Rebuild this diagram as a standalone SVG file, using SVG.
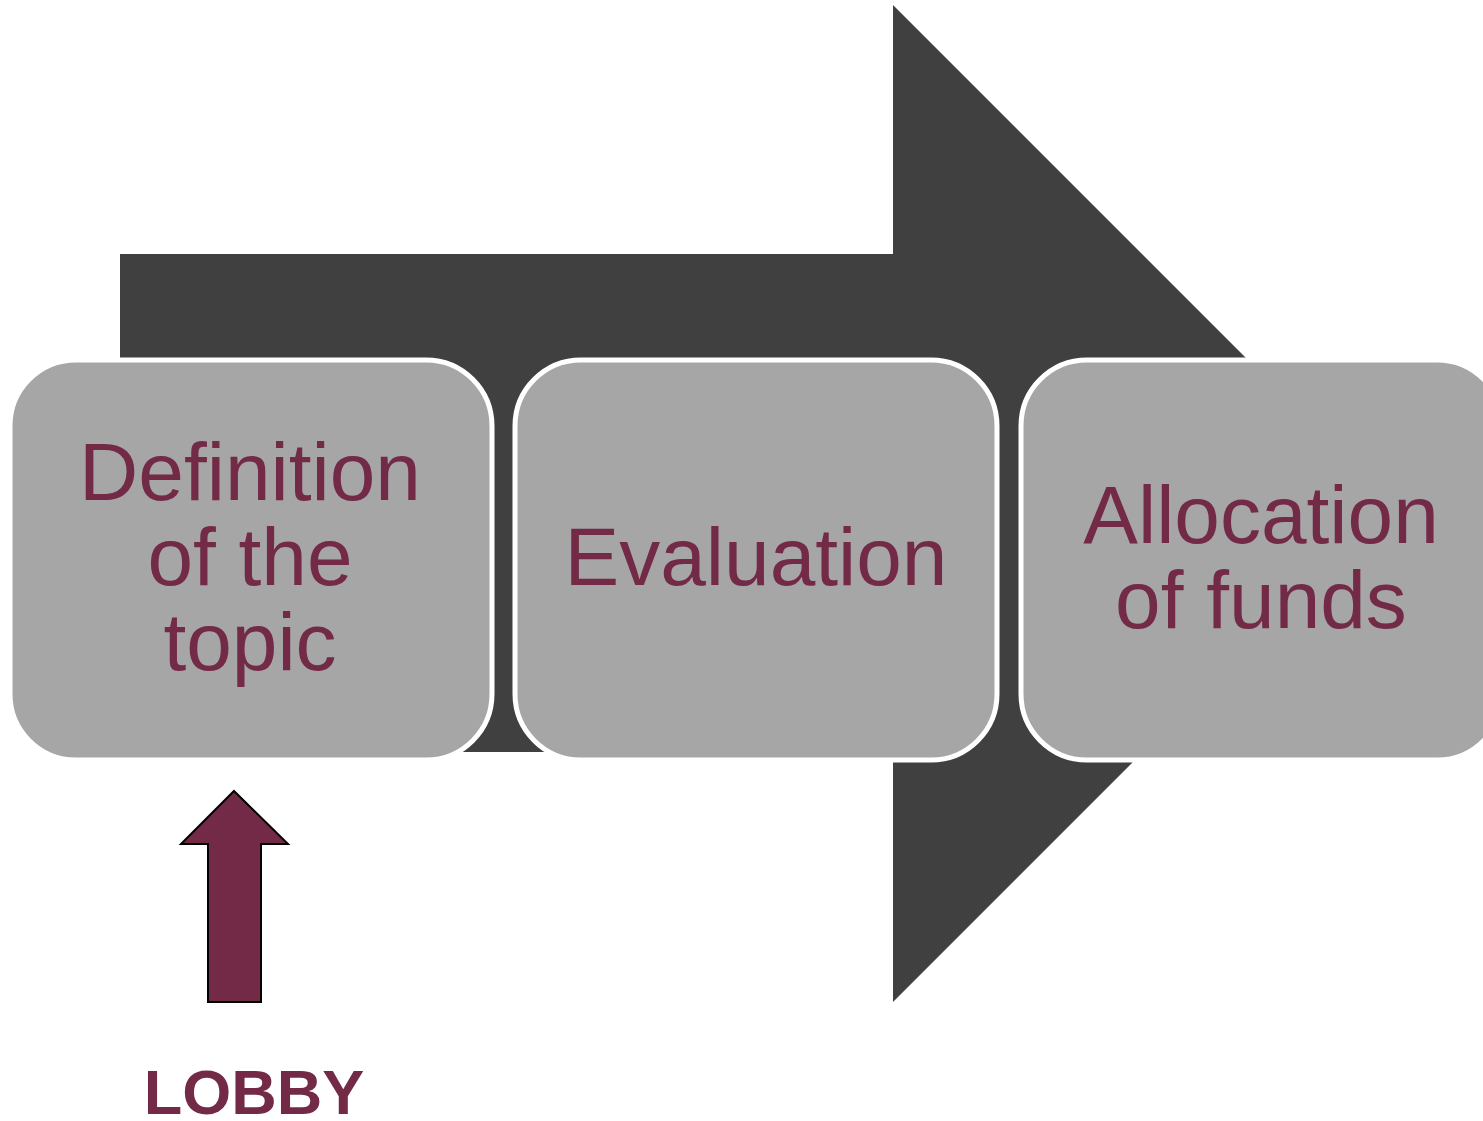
<svg xmlns="http://www.w3.org/2000/svg" width="1483" height="1121" viewBox="0 0 1483 1121">
<style>
.box{fill:#a6a6a6;stroke:#ffffff;stroke-width:5}
.lbl{font-family:"Liberation Sans",Arial,sans-serif;font-size:82px;fill:#722a47;text-anchor:middle}
.lobby{font-family:"Liberation Sans",Arial,sans-serif;font-size:63px;font-weight:bold;fill:#722a47;text-anchor:middle}
</style>
<rect width="1483" height="1121" fill="#ffffff"/>
<g id="flow-arrow">
<polygon points="120,254 893,254 893,5 1391.5,503.5 893,1002 893,752 120,752" fill="#404040"/>
</g>
<g id="node-definition">
<rect class="box" x="10" y="360" width="482" height="400" rx="66"/>
<text class="lbl" x="250" y="500">Definition</text>
<text class="lbl" x="250" y="585">of the</text>
<text class="lbl" x="250" y="670">topic</text>
</g>
<g id="node-evaluation">
<rect class="box" x="515" y="360" width="482" height="400" rx="66"/>
<text class="lbl" x="756" y="585">Evaluation</text>
</g>
<g id="node-allocation">
<rect class="box" x="1021" y="360" width="482" height="400" rx="66"/>
<text class="lbl" x="1261" y="543">Allocation</text>
<text class="lbl" x="1261" y="628">of funds</text>
</g>
<g id="connectors">
<polygon points="234,791 288,844 261,844 261,1002 208,1002 208,844 181,844" fill="#722a47" stroke="#000000" stroke-width="2"/>
</g>
<g id="node-lobby">
<text class="lobby" x="254" y="1114">LOBBY</text>
</g>
</svg>
